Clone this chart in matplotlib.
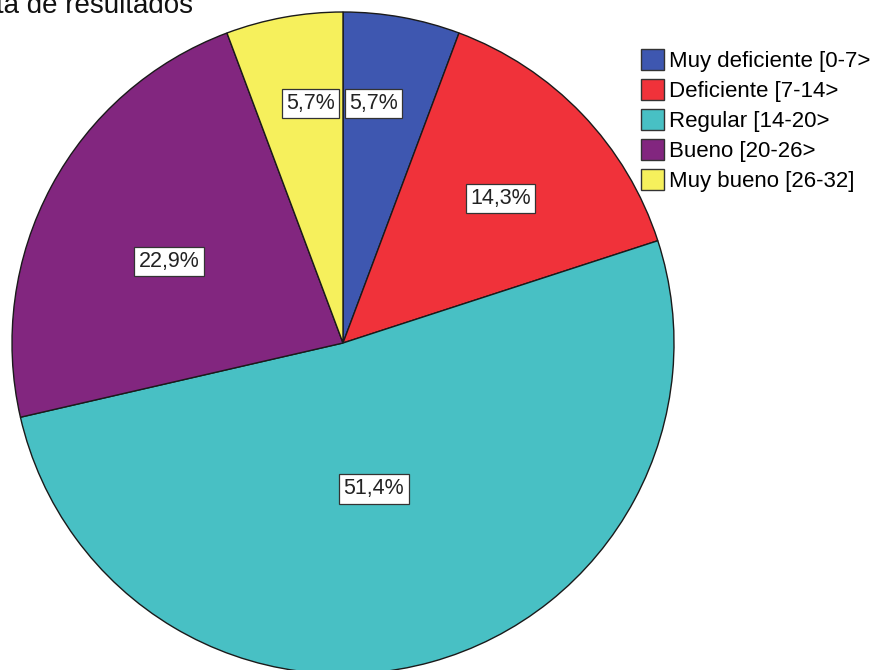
import matplotlib
matplotlib.use("Agg")
import matplotlib.pyplot as plt
import numpy as np

categories = ["Muy deficiente [0-7>", "Deficiente [7-14>", "Regular [14-20>",
              "Bueno [20-26>", "Muy bueno [26-32]"]
percentages = [5.7, 14.3, 51.4, 22.9, 5.7]
colors = ["#3E57B0", "#F0323A", "#48C0C4", "#82267F", "#F6F05C"]

# label placement: (fraction of radius, angle nudge in degrees)
label_pos = [(0.73, 3.0), (0.645, -1.2), (0.45, -3.5), (0.58, 3.2), (0.73, -2.5)]

W, H = 873, 670
fig = plt.figure(figsize=(W / 100, H / 100), dpi=100)
ax = fig.add_axes([0, 0, 1, 1])

cx, cy, R = 343, H - 343, 331
wedges, _ = ax.pie(percentages, colors=colors, startangle=90, counterclock=False,
                   center=(cx, cy), radius=R, frame=True,
                   wedgeprops=dict(edgecolor="#1a1a1a", linewidth=1.0))
ax.set_xlim(0, W)
ax.set_ylim(0, H)
ax.axis("off")

for w, p, (rf, da) in zip(wedges, percentages, label_pos):
    ang = np.deg2rad((w.theta1 + w.theta2) / 2 + da)
    x = cx + rf * R * np.cos(ang)
    y = cy + rf * R * np.sin(ang)
    ax.text(x, y, f"{p:.1f}%".replace(".", ","), ha="center", va="center",
            fontsize=15.5, color="#222222", family="Liberation Sans",
            bbox=dict(boxstyle="square,pad=0.2", facecolor="white",
                      edgecolor="#333333", linewidth=0.9))

leg = ax.legend(wedges, categories, loc="upper left", bbox_to_anchor=(641 / W, 1 - 49 / H),
                frameon=False, prop=dict(family="Liberation Sans", size=16),
                handlelength=1.05, handleheight=1.05, handletextpad=0.2,
                labelspacing=0.32, borderaxespad=0, borderpad=0)
for h in leg.legend_handles:
    h.set_edgecolor("#333333")

fig.text(-4 / W, 1 - 13 / H, "ta de resultados", ha="left", va="baseline",
         fontsize=20, family="Liberation Sans", color="#111111")

fig.savefig("out.png", dpi=100, facecolor="white")
